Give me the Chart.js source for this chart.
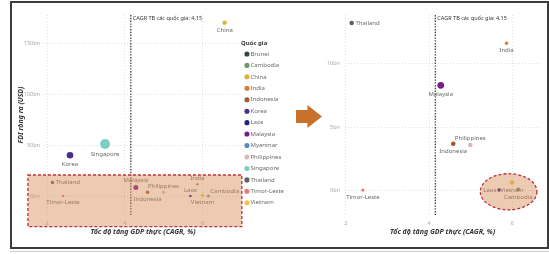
<!DOCTYPE html>
<html>
<head>
<meta charset="utf-8">
<script src="https://cdn.jsdelivr.net/npm/chart.js@4.4.1/dist/chart.umd.min.js"></script>
<style>
  html, body { margin: 0; padding: 0; background: #fff; }
  body { width: 549px; height: 254px; position: relative; overflow: hidden; }
  #frame { position: absolute; left: 10px; top: 1px; width: 535px; height: 244px; border: 2px solid #3c3c3c; }
  #underline { position: absolute; left: 10px; top: 251px; width: 539px; height: 1px; background: #cfcfcf; }
  #cLeft { position: absolute; left: 12px; top: 3px; }
  #cRight { position: absolute; left: 295px; top: 3px; }
  #arrow { position: absolute; left: 296px; top: 105px; width: 26px; height: 23px; background: #c8712a;
           clip-path: polygon(0 22%, 44% 22%, 44% 0, 100% 50%, 44% 100%, 44% 78%, 0 78%); }
</style>
</head>
<body>
<div id="frame"></div>
<div id="underline"></div>
<canvas id="cLeft" width="283" height="244"></canvas>
<canvas id="cRight" width="252" height="244"></canvas>
<div id="arrow"></div>
<script>
// values (FDI in bn USD, GDP CAGR in %)
const countries = ['Brunei', 'Cambodia', 'China', 'India', 'Indonesia', 'Korea', 'Laos', 'Malaysia',
  'Myanmar', 'Philippines', 'Singapore', 'Thailand', 'Timor-Leste', 'Vietnam'];
const gdpCagr = [null, 6.14, 6.56, 5.86, 4.58, 2.59, 5.68, 4.28, null, 4.99, 3.49, 2.14, 2.41, 5.99];
const fdiOut = [null, 0.1, 170, 11.6, 3.7, 40, 0.05, 8.3, null, 3.6, 51, 13.2, 0.05, 0.65];
const bubbleSize = [null, 1.5, 2.2, 1.3, 1.7, 3.3, 1.3, 2.5, null, 1.7, 5, 1.7, 1.2, 1.7];
const colors = ['#2f4a37', '#6f9a65', '#dfb034', '#e07a30', '#a5582e', '#4b2e86', '#1f2286', '#7a1c8a',
  '#4a90c0', '#d9b9b9', '#7fcec4', '#5b6161', '#e77b7b', '#efc640'];

const xTicks = [2, 4, 6];
const yTicksLeft = [0, 50, 100, 150];
const yTicksRight = [0, 5, 10];
const cagrAvg = 4.15;
const cagrText = 'CAGR TB các quốc gia: 4.15';
const xTitle = 'Tốc độ tăng GDP thực (CAGR, %)';
const yTitle = 'FDI ròng ra (USD)';

const FONT = '"Noto Sans", "Open Sans", sans-serif';
Chart.defaults.font.family = FONT;

// where each point label sits
const labelPosLeft = { China: 'below', Singapore: 'below', Korea: 'below', Thailand: 'right', 'Timor-Leste': 'below',
  Malaysia: 'above', Indonesia: 'below', Philippines: 'above', India: 'above', Laos: 'above', Vietnam: 'below', Cambodia: 'upright' };
const labelPosRight = { Thailand: 'right', India: 'below', Malaysia: 'below', Philippines: 'above', Indonesia: 'below',
  'Timor-Leste': 'below', Laos: 'left', Vietnam: 'below', Cambodia: 'below' };

function buildDatasets(scaleR) {
  return countries.map((c, i) => ({
    label: c,
    data: gdpCagr[i] == null ? [] : [{ x: gdpCagr[i], y: fdiOut[i], r: bubbleSize[i] * scaleR }],
    backgroundColor: colors[i],
    borderWidth: 0,
    hoverBorderWidth: 0
  }));
}

const pointLabels = {
  id: 'pointLabels',
  afterDatasetsDraw(chart, args, opts) {
    const ctx = chart.ctx, a = chart.chartArea;
    ctx.save();
    ctx.font = '6px ' + FONT;
    ctx.fillStyle = '#6a6a6a';
    ctx.textBaseline = 'middle';
    chart.data.datasets.forEach((ds, i) => {
      const pos = opts.pos[ds.label];
      if (!pos) return;
      chart.getDatasetMeta(i).data.forEach(el => {
        if (el.x < a.left || el.x > a.right || el.y < a.top || el.y > a.bottom) return;
        const r = el.options.radius;
        let x = el.x, y = el.y;
        if (pos === 'below') { ctx.textAlign = 'center'; y += r + 5.5; }
        else if (pos === 'above') { ctx.textAlign = 'center'; y -= r + 4.5; }
        else if (pos === 'right') { ctx.textAlign = 'left'; x += r + 1.5; }
        else if (pos === 'left') { ctx.textAlign = 'right'; x -= r + 1; }
        else if (pos === 'upright') { ctx.textAlign = 'left'; x += r + 0.5; y -= 5; }
        ctx.fillText(ds.label, x, y);
      });
    });
    ctx.restore();
  }
};

const avgLine = {
  id: 'avgLine',
  beforeDatasetsDraw(chart) {
    const ctx = chart.ctx, a = chart.chartArea;
    const px = chart.scales.x.getPixelForValue(cagrAvg);
    ctx.save();
    ctx.strokeStyle = '#4a4a4a';
    ctx.lineWidth = 1.4;
    ctx.setLineDash([1.4, 1.4]);
    ctx.beginPath();
    ctx.moveTo(px, a.top);
    ctx.lineTo(px, a.bottom);
    ctx.stroke();
    ctx.setLineDash([]);
    ctx.fillStyle = '#333';
    ctx.font = '5.5px ' + FONT;
    ctx.textAlign = 'left';
    ctx.textBaseline = 'middle';
    ctx.fillText(cagrText, px + 2, a.top + 3.5);
    ctx.restore();
  }
};

// highlight overlays, placed in data units
const highlight = {
  id: 'highlight',
  afterDraw(chart, args, opts) {
    const ctx = chart.ctx, sx = chart.scales.x, sy = chart.scales.y;
    ctx.save();
    ctx.fillStyle = 'rgba(214,140,85,0.45)';
    ctx.strokeStyle = '#b8333a';
    ctx.lineWidth = 1.3;
    ctx.setLineDash([3, 2]);
    ctx.beginPath();
    if (opts.rect) {
      const [x0, x1, y0, y1] = opts.rect;
      const l = sx.getPixelForValue(x0), r = sx.getPixelForValue(x1);
      const t = sy.getPixelForValue(y1), b = sy.getPixelForValue(y0);
      ctx.rect(l, t, r - l, b - t);
    } else if (opts.ellipse) {
      const [cx, cy, rx, ry] = opts.ellipse;
      const px = sx.getPixelForValue(cx), py = sy.getPixelForValue(cy);
      ctx.ellipse(px, py, Math.abs(sx.getPixelForValue(cx + rx) - px), Math.abs(sy.getPixelForValue(cy + ry) - py), 0, 0, Math.PI * 2);
    }
    ctx.fill();
    ctx.stroke();
    ctx.restore();
  }
};

// fixed legend width so the plot ends where the picture's does
const legendWidth = {
  id: 'legendWidth',
  beforeInit(chart, args, opts) {
    const lg = chart.legend;
    if (!lg || !opts.width) return;
    const fit = lg.fit;
    lg.fit = function () { fit.call(this); if (!this.isHorizontal()) this.width = opts.width; };
  },
  afterLayout(chart, args, opts) {
    const lg = chart.legend;
    if (!lg) return;
    if (opts.shift) { lg.left -= opts.shift; lg.right -= opts.shift; }
    if (opts.shiftY) { lg.top -= opts.shiftY; lg.bottom -= opts.shiftY; }
  }
};

function xAxis(min, max, yW) {
  return {
    type: 'linear', min, max,
    afterBuildTicks: s => { s.ticks = xTicks.map(v => ({ value: v })); },
    grid: { color: '#dedede', drawTicks: false },
    border: { display: false, dash: [1, 2] },
    ticks: { color: '#a8a8a8', font: { size: 5.5 }, padding: 5, callback: v => String(v) },
    title: { display: true, text: xTitle, color: '#333', font: { size: 7, weight: 'bold', style: 'italic' }, padding: { top: 0, bottom: 11 } },
    afterFit: s => { s.height = 32; }
  };
}

function yAxis(min, max, ticks, width, withTitle) {
  return {
    type: 'linear', min, max,
    afterBuildTicks: s => { s.ticks = ticks.map(v => ({ value: v })); },
    grid: { color: '#dedede', drawTicks: false },
    border: { display: false, dash: [1, 2] },
    ticks: { color: '#a8a8a8', font: { size: 5.5 }, padding: withTitle ? 3 : 5, callback: v => v + 'bn' },
    title: { display: withTitle, text: yTitle, color: '#333', font: { size: 7, weight: 'bold', style: 'italic' }, padding: { top: 5, bottom: 0 } },
    afterFit: s => { s.width = width; }
  };
}

new Chart(document.getElementById('cLeft'), {
  type: 'bubble',
  data: { datasets: buildDatasets(1) },
  plugins: [legendWidth, avgLine, pointLabels, highlight],
  options: {
    responsive: false, animation: false, events: [],
    layout: { padding: { top: 12, left: 0, right: 0, bottom: 0 } },
    scales: { x: xAxis(1.897, 7.03), y: yAxis(-18.6, 177.5, yTicksLeft, 31, true) },
    plugins: {
      tooltip: { enabled: false },
      legend: {
        position: 'right', align: 'center',
        title: { display: true, text: 'Quốc gia', position: 'start', color: '#333', font: { size: 6, weight: 'bold' }, padding: { top: 0, bottom: -2.5 } },
        labels: { usePointStyle: true, pointStyle: 'circle', boxWidth: 1, boxHeight: 3.6, padding: 5.45, color: '#6a6a6a', font: { size: 6 } }
      },
      legendWidth: { width: 52, shift: 2, shiftY: 5 },
      pointLabels: { pos: labelPosLeft },
      highlight: { rect: [1.51, 7.0, -30, 20.6] }
    }
  }
});

new Chart(document.getElementById('cRight'), {
  type: 'bubble',
  data: { datasets: buildDatasets(1.35) },
  plugins: [avgLine, pointLabels, highlight],
  options: {
    responsive: false, animation: false, events: [],
    layout: { padding: { top: 12, left: 0, right: 2, bottom: 0 } },
    scales: { x: xAxis(1.98, 6.67), y: yAxis(-1.91, 13.83, yTicksRight, 50, false) },
    plugins: {
      tooltip: { enabled: false },
      legend: { display: false },
      pointLabels: { pos: labelPosRight },
      highlight: { ellipse: [5.91, -0.08, 0.68, 1.42] }
    }
  }
});
</script>
</body>
</html>
